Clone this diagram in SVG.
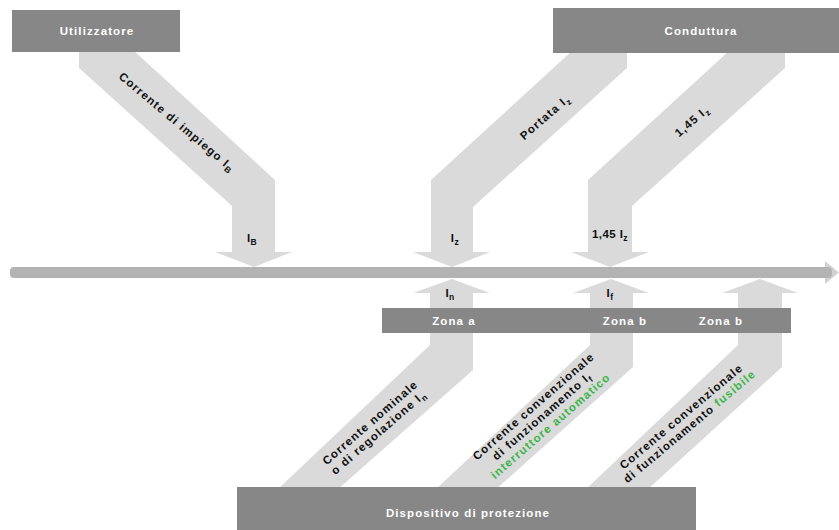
<svg xmlns="http://www.w3.org/2000/svg" width="839" height="530" viewBox="0 0 839 530">
<style>
.box{fill:#878787}
.band{fill:#dadada}
.bt{font-family:"Liberation Sans",Arial,sans-serif;font-weight:bold;font-size:11.5px;letter-spacing:1.1px;fill:#ffffff;text-anchor:middle}
.lt{font-family:"Liberation Sans",Arial,sans-serif;font-weight:bold;font-size:11.5px;letter-spacing:1.2px;fill:#111111;text-anchor:middle}
.sl{font-family:"Liberation Sans",Arial,sans-serif;font-weight:bold;font-size:11.5px;letter-spacing:0.4px;fill:#111111;text-anchor:middle}
.g{fill:#3db54a}
</style>
<rect width="839" height="530" fill="#ffffff"/>
<g id="connectors">
<polygon class="band" points="79,50 133,50 275,180 275,252 292,252 254,267 215,252 232,252 232,206 79,68"/>
<polygon class="band" points="573,50 627,50 627,68 473,207 473,252 490,252 452,267 413,252 431,252 431,180"/>
<polygon class="band" points="730,50 785,50 785,68 632,206 632,252 649,252 610,267 571,252 588,252 588,180"/>
<polygon class="band" points="277,490 430,345 430,293 413,293 452,279 490,293 473,293 473,370 337,490"/>
<polygon class="band" points="435,490 590,345 590,293 573,293 611,279 649,293 633,293 633,367 495,490"/>
<polygon class="band" points="585,490 738,345 738,293 722,293 760,279 798,293 782,293 782,367 647,490"/>
<polygon points="825,261 839,272.5 825,284" fill="#d2d2d2"/>
<rect x="10" y="267" width="822" height="11" rx="4" fill="#b3b3b3"/>
</g>
<g id="utilizzatore">
<rect class="box" x="12" y="10" width="168" height="42"/>
<text class="bt" x="97" y="35">Utilizzatore</text>
</g>
<g id="conduttura">
<rect class="box" x="553" y="8" width="286" height="45"/>
<text class="bt" x="701" y="35">Conduttura</text>
</g>
<g id="zone">
<rect class="box" x="382" y="308" width="409" height="25"/>
<text class="bt" x="454" y="325">Zona a</text>
<text class="bt" x="625" y="325">Zona b</text>
<text class="bt" x="721" y="325">Zona b</text>
</g>
<g id="dispositivo">
<rect class="box" x="237" y="487" width="459" height="43"/>
<text class="bt" x="468" y="517">Dispositivo di protezione</text>
</g>
<g id="labels">
<text class="lt" transform="translate(177,122) rotate(40)" y="4">Corrente di impiego I<tspan font-size="8.5" dy="3">B</tspan></text>
<text class="lt" transform="translate(545,117) rotate(-41)" y="4">Portata I<tspan font-size="8.5" dy="3">z</tspan></text>
<text class="lt" transform="translate(692,121) rotate(-41)" y="4">1,45 I<tspan font-size="8.5" dy="3">z</tspan></text>
<text class="sl" x="252" y="242">I<tspan font-size="8.5" dy="3">B</tspan></text>
<text class="sl" x="455" y="242">I<tspan font-size="8.5" dy="3">z</tspan></text>
<text class="sl" x="610" y="238">1,45 I<tspan font-size="8.5" dy="3">z</tspan></text>
<text class="sl" x="450" y="297">I<tspan font-size="8.5" dy="3">n</tspan></text>
<text class="sl" x="610" y="297">I<tspan font-size="8.5" dy="3">f</tspan></text>
<g transform="translate(374,427) rotate(-41)">
<text class="lt" y="-2">Corrente nominale</text>
<text class="lt" y="11">o di regolazione I<tspan font-size="8.5" dy="3">n</tspan></text>
</g>
<g transform="translate(542,416) rotate(-41)">
<text class="lt" y="-9">Corrente convenzionale</text>
<text class="lt" y="4">di funzionamento I<tspan font-size="8.5" dy="3">f</tspan></text>
<text class="lt g" y="17">interruttore automatico</text>
</g>
<g transform="translate(685,421) rotate(-40)">
<text class="lt" y="-2">Corrente convenzionale</text>
<text class="lt" y="11">di funzionamento <tspan class="g">fusibile</tspan></text>
</g>
</g>
</svg>
